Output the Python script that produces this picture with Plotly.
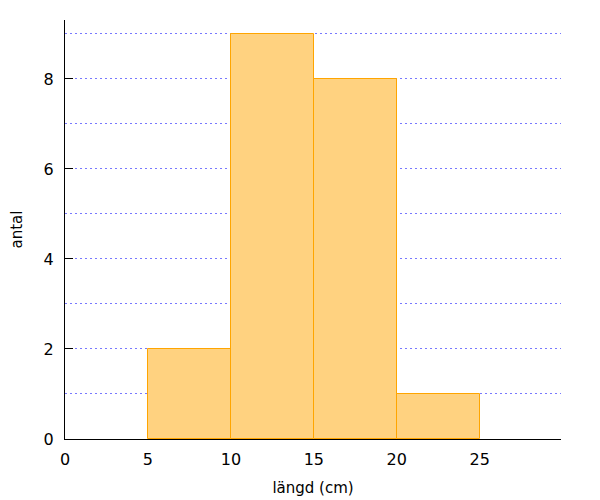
import plotly.graph_objects as go

bin_starts = [5, 10, 15, 20]
bin_width = 5
counts = [2, 9, 8, 1]
x_title = "längd (cm)"
y_title = "antal"

centers = [s + bin_width / 2 for s in bin_starts]

fig = go.Figure(go.Bar(
    x=centers, y=counts, width=[bin_width] * len(counts),
    marker=dict(color="#FFD280", line=dict(color="#FFA500", width=1)),
))

grid_dash = "2px,3px"
grid_color = "#7878ff"

fig.update_layout(
    width=600, height=500,
    margin=dict(l=57, r=47, t=12, b=69),
    plot_bgcolor="white", paper_bgcolor="white",
    font=dict(family="DejaVu Sans", size=16, color="black"),
    showlegend=False,
    bargap=0,
)
fig.update_xaxes(
    range=[0, 29.9], tickvals=[0, 5, 10, 15, 20, 25], showgrid=False,
    showline=True, linecolor="black", linewidth=1, zeroline=False,
    ticks="", ticklabelstandoff=6, automargin=False,
    title=dict(text=x_title, standoff=14, font=dict(size=15)),
)
fig.update_yaxes(
    range=[0, 9.31], tickvals=[0, 2, 4, 6, 8], showgrid=True,
    gridcolor=grid_color, griddash=grid_dash, gridwidth=1,
    minor=dict(dtick=1, tick0=0, showgrid=True, gridcolor=grid_color, griddash=grid_dash, gridwidth=1, ticks=""),
    showline=True, linecolor="black", linewidth=1, zeroline=False,
    ticks="inside", ticklen=8, tickcolor="black", ticklabelstandoff=7,
    automargin=False,
    title=dict(text=y_title, standoff=21, font=dict(size=15)),
)

fig.write_html("out.html")
